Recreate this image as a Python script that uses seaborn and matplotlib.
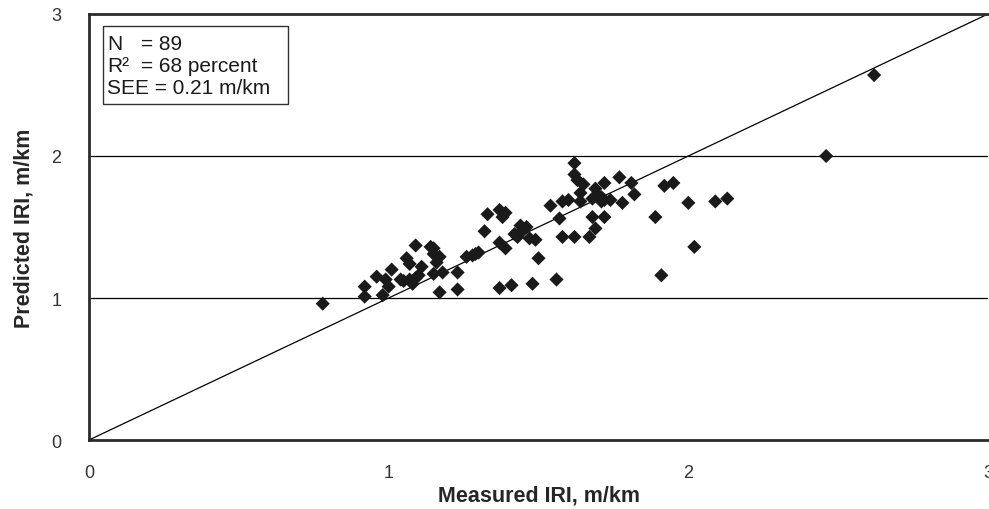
import matplotlib
matplotlib.use("Agg")
import matplotlib.pyplot as plt
import seaborn as sns
import pandas as pd
from matplotlib.patches import Rectangle

# Measured vs predicted IRI (m/km)
measured = [0.78, 0.92, 0.92, 0.98, 0.96, 0.99, 1.01, 1.00, 1.04, 1.07,
            1.08, 1.06, 1.07, 1.09, 1.09, 1.11, 1.14, 1.15, 1.17, 1.16,
            1.15, 1.18, 1.17, 1.23, 1.23, 1.26, 1.28, 1.29, 1.33, 1.32,
            1.37, 1.38, 1.37, 1.39, 1.42, 1.44, 1.46, 1.43, 1.47, 1.49,
            1.50, 1.37, 1.41, 1.48, 1.56, 1.54, 1.58, 1.57, 1.58, 1.62,
            1.62, 1.62, 1.63, 1.64, 1.64, 1.67, 1.68, 1.69, 1.69, 1.68,
            1.71, 1.71, 1.72, 1.72, 1.74, 1.77, 1.78, 1.81, 1.82, 1.89,
            1.91, 1.92, 1.95, 2.00, 2.09, 2.13, 2.02, 2.46, 2.62,
            1.05, 1.10, 1.15, 1.39, 1.44, 1.65, 1.70, 1.72, 1.60, 1.30]
predicted = [0.96, 1.08, 1.01, 1.02, 1.15, 1.13, 1.20, 1.08, 1.13, 1.13,
             1.10, 1.28, 1.24, 1.37, 1.14, 1.22, 1.36, 1.35, 1.29, 1.25,
             1.17, 1.18, 1.04, 1.18, 1.06, 1.29, 1.30, 1.31, 1.59, 1.47,
             1.62, 1.57, 1.39, 1.35, 1.45, 1.51, 1.50, 1.43, 1.42, 1.41,
             1.28, 1.07, 1.09, 1.10, 1.13, 1.65, 1.68, 1.56, 1.43, 1.43,
             1.95, 1.87, 1.83, 1.74, 1.68, 1.43, 1.57, 1.49, 1.77, 1.70,
             1.68, 1.71, 1.57, 1.81, 1.69, 1.85, 1.67, 1.81, 1.73, 1.57,
             1.16, 1.79, 1.81, 1.67, 1.68, 1.70, 1.36, 2.00, 2.57,
             1.12, 1.16, 1.31, 1.60, 1.46, 1.80, 1.72, 1.69, 1.69, 1.32]

axis_ticks = [0, 1, 2, 3]
stats_lines = [("N", "= 89"), ("R\u00b2", "= 68 percent"), ("SEE = 0.21 m/km", "")]

df = pd.DataFrame({"Measured": measured, "Predicted": predicted})

sns.set_style("white")
plt.rcParams["font.family"] = ["Liberation Sans", "DejaVu Sans"]

W, H = 989, 510
fig = plt.figure(figsize=(W / 100, H / 100), dpi=100)
ax = fig.add_axes([89 / W, 1 - 441 / H, (988 - 89) / W, (441 - 15) / H])

# 1:1 line and gridlines
ax.plot([0, 3], [0, 3], color="black", lw=0.9, zorder=2)
for yv in [1, 2]:
    ax.axhline(yv, color="black", lw=0.9, zorder=1)

sns.scatterplot(data=df, x="Measured", y="Predicted", marker="D", s=52,
                color="#1a1a1a", edgecolor="none", linewidth=0, ax=ax, zorder=3)

ax.set_xlim(0, 3)
ax.set_ylim(0, 3)
ax.set_xticks(axis_ticks)
ax.set_yticks(axis_ticks)
ax.tick_params(length=0, labelsize=13, labelcolor="#333333")
ax.tick_params(axis="x", pad=17)
ax.tick_params(axis="y", pad=20)
ax.set_xlabel("Measured IRI, m/km", fontsize=15.5, fontweight="bold", labelpad=3)
ax.set_ylabel("Predicted IRI, m/km", fontsize=15.5, fontweight="bold", labelpad=12)

for side in ["left", "bottom", "top"]:
    ax.spines[side].set_color("#2b2b2b")
    ax.spines[side].set_linewidth(2)
ax.spines["right"].set_visible(False)

# statistics box
fig.patches.append(Rectangle((103 / W, 1 - 105 / H), (288 - 103) / W, (105 - 27) / H,
                             transform=fig.transFigure, fill=False,
                             edgecolor="#333333", lw=1))
for i, (lab, val) in enumerate(stats_lines):
    yc = 1 - (44 + i * 22) / H
    fig.text(107 / W, yc, lab, fontsize=15, va="center", ha="left", color="#1a1a1a")
    if val:
        fig.text(141 / W, yc, val, fontsize=15, va="center", ha="left", color="#1a1a1a")

fig.savefig("out.png", dpi=100)
